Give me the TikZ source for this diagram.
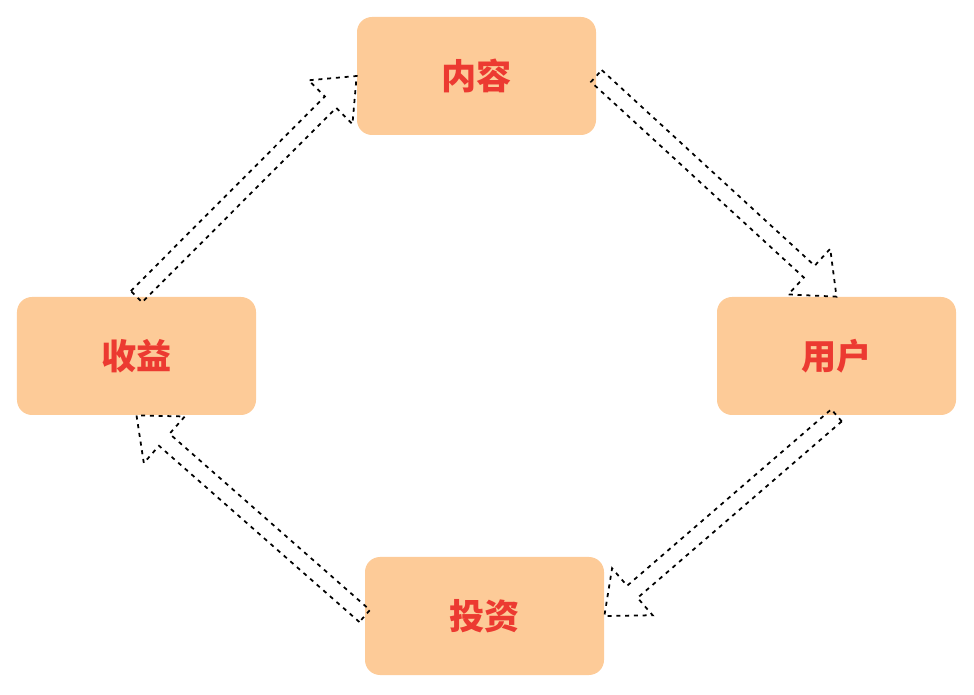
\documentclass[tikz,border=0pt]{standalone}
\usepackage{fontspec}
\newfontfamily\cjk{Noto Sans CJK SC}
\usepackage{tikz}
\usetikzlibrary{calc}
\usepackage{xcolor}
\definecolor{boxfill}{HTML}{FDCB98}
\definecolor{boxtext}{HTML}{EC3A31}

\tikzset{
  stagebox/.style = {fill=boxfill, rounded corners=0.3cm, minimum width=4.78cm,
    minimum height=2.36cm, text=boxtext, font=\cjk\bfseries\fontsize{20}{24}\selectfont},
  arrowline/.style = {black, line width=1pt, dash pattern=on 2.3pt off 2.7pt}
}

% 空心虚线箭头: #1 起点, #2 终点
\newcommand{\hollowarrow}[2]{%
  \coordinate (hb) at ($(#2)!0.74cm!(#1)$);  % 箭头底部中点
  \draw[arrowline] ($(#1)!0.16cm!90:(#2)$) -- ($(hb)!0.16cm!-90:(#1)$)
    -- ($(hb)!0.62cm!-90:(#1)$) -- (#2) -- ($(hb)!0.62cm!90:(#1)$)
    -- ($(hb)!0.16cm!90:(#1)$) -- ($(#1)!0.16cm!-90:(#2)$) -- cycle;
}

\begin{document}
\begin{tikzpicture}
\useasboundingbox (0,0) rectangle (19.48,13.88);
\node[stagebox] (content) at (9.53,12.36) {内容};
\node[stagebox] (user)    at (16.73,6.76) {用户};
\node[stagebox] (income)  at (2.73,6.76)  {收益};
\node[stagebox] (invest)  at (9.69,1.56)  {投资};
\hollowarrow{income.north}{content.west}
\hollowarrow{content.east}{user.north}
\hollowarrow{user.south}{invest.east}
\hollowarrow{invest.west}{income.south}
\end{tikzpicture}
\end{document}
